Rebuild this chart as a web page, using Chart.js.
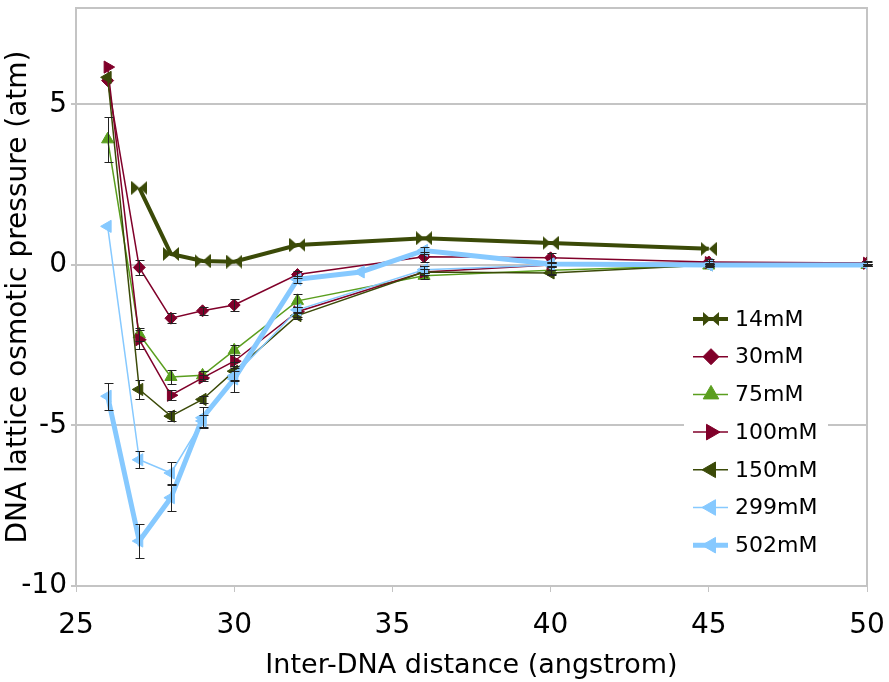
<!DOCTYPE html>
<html>
<head>
<meta charset="utf-8">
<script src="https://cdn.jsdelivr.net/npm/chart.js@4.4.0/dist/chart.umd.min.js"></script>
<style>
html, body { margin: 0; padding: 0; background: #fff; }
</style>
</head>
<body>
<canvas id="pressureChart" width="889" height="682"></canvas>
<script>
// values (distance in angstrom, pressure in atm, +/- error)
const dist14 = [27, 28, 29, 30, 32, 36, 40, 45];
const p14 = [2.4, 0.34, 0.12, 0.1, 0.62, 0.83, 0.68, 0.5];

const dist30 = [26, 27, 28, 29, 30, 32, 36, 40, 45, 50];
const p30 = [5.74, -0.08, -1.66, -1.43, -1.25, -0.3, 0.25, 0.22, 0.09, 0.06];
const err30 = [0, 0.23, 0.15, 0.12, 0.2, 0.12, 0.15, 0.15, 0.08, 0.05];

const dist75 = [26, 27, 28, 29, 30, 32, 36, 40, 45, 50];
const p75 = [3.91, -2.16, -3.49, -3.44, -2.66, -1.12, -0.34, -0.17, -0.02, 0];
const err75 = [0.71, 0.2, 0.23, 0.12, 0.15, 0.2, 0.1, 0.1, 0.05, 0.03];

const dist100 = [26, 27, 28, 29, 30, 32, 36, 40, 45, 50];
const p100 = [6.16, -2.33, -4.06, -3.52, -3.0, -1.46, -0.22, 0.0, 0.07, 0.05];
const err100 = [0, 0.3, 0.15, 0.1, 0.2, 0.15, 0.1, 0.08, 0.05, 0.03];

const dist150 = [26, 27, 28, 29, 30, 32, 36, 40, 45, 50];
const p150 = [5.84, -3.88, -4.71, -4.19, -3.31, -1.58, -0.22, -0.25, 0.0, 0.0];
const err150 = [0, 0.31, 0.15, 0.1, 0.3, 0.1, 0.1, 0.08, 0.05, 0.03];

const dist299 = [26, 27, 28, 29, 30, 32, 36, 40, 45, 50];
const p299 = [1.2, -6.07, -6.48, -4.86, -3.45, -1.4, -0.15, 0.0, 0.0, 0.0];
const err299 = [0, 0.27, 0.35, 0.2, 0.15, 0.1, 0.1, 0.05, 0.03, 0.02];

const dist502 = [26, 27, 28, 29, 30, 32, 34, 36, 40, 45, 50];
const p502 = [-4.09, -8.6, -7.25, -4.76, -3.55, -0.45, -0.22, 0.45, 0.03, 0.0, 0.0];
const err502 = [0.42, 0.54, 0.41, 0.33, 0.4, 0.1, 0, 0.1, 0.05, 0.03, 0.02];

const xTicks = [25, 30, 35, 40, 45, 50];
const yTicks = [-10, -5, 0, 5];

const olive = '#3B4A08';
const maroon = '#80002A';
const green = '#5A9E1E';
const sky = '#86C9FF';

Chart.defaults.font.family = "'DejaVu Sans', sans-serif";
Chart.defaults.color = '#000';

// bowtie marker used by the 14mM series
function bowtie(color, w, h) {
    const c = document.createElement('canvas');
    c.width = w;
    c.height = h;
    const g = c.getContext('2d');
    g.fillStyle = color;
    g.beginPath();
    g.moveTo(0, 0); g.lineTo(w / 2, h / 2); g.lineTo(0, h); g.closePath();
    g.moveTo(w, 0); g.lineTo(w / 2, h / 2); g.lineTo(w, h); g.closePath();
    g.fill();
    return c;
}

function series(label, xs, ys, errs, color, width, style, rot, radius, order) {
    return {
        label: label,
        data: xs.map((x, i) => ({ x: x, y: ys[i] })),
        errors: errs,
        borderColor: color,
        backgroundColor: color,
        borderWidth: width,
        pointStyle: style,
        pointRotation: rot,
        pointRadius: radius,
        pointBorderWidth: 1,
        pointBackgroundColor: color,
        pointBorderColor: color,
        tension: 0,
        fill: false,
        order: order
    };
}

// plot frame (top / right edges)
const frame = {
    id: 'frame',
    beforeDatasetsDraw(chart) {
        const { ctx, chartArea: a } = chart;
        ctx.save();
        ctx.strokeStyle = '#C4C4C4';
        ctx.lineWidth = 2;
        ctx.strokeRect(a.left, a.top, a.right - a.left, a.bottom - a.top);
        ctx.restore();
    }
};

// vertical error bars with caps
const errorBars = {
    id: 'errorBars',
    afterDatasetsDraw(chart) {
        const { ctx, scales: { x, y } } = chart;
        ctx.save();
        ctx.strokeStyle = '#222';
        ctx.lineWidth = 1;
        chart.data.datasets.forEach(d => {
            if (!d.errors) return;
            d.data.forEach((p, i) => {
                const e = d.errors[i];
                if (!e) return;
                const px = Math.round(x.getPixelForValue(p.x)) + 0.5;
                const y1 = Math.round(y.getPixelForValue(p.y + e)) + 0.5;
                const y2 = Math.round(y.getPixelForValue(p.y - e)) + 0.5;
                ctx.beginPath();
                ctx.moveTo(px, y1); ctx.lineTo(px, y2);
                ctx.moveTo(px - 4, y1); ctx.lineTo(px + 5, y1);
                ctx.moveTo(px - 4, y2); ctx.lineTo(px + 5, y2);
                ctx.stroke();
            });
        });
        ctx.restore();
    }
};

// legend box inside the plot area
const boxLegend = {
    id: 'boxLegend',
    afterDraw(chart) {
        const { ctx, chartArea: a } = chart;
        const left = a.right - 183;
        const top = a.top + 294;
        const rowH = 37.7;
        ctx.save();
        ctx.fillStyle = '#fff';
        ctx.fillRect(left, top, 144, 266);
        chart.data.datasets.forEach((d, i) => {
            const cy = top + 17 + i * rowH;
            ctx.strokeStyle = d.borderColor;
            ctx.lineWidth = d.borderWidth;
            ctx.beginPath();
            ctx.moveTo(left + 9, cy);
            ctx.lineTo(left + 44, cy);
            ctx.stroke();
            ctx.fillStyle = d.pointBackgroundColor;
            ctx.strokeStyle = d.pointBorderColor;
            ctx.lineWidth = 1;
            Chart.helpers.drawPoint(ctx, {
                pointStyle: d.pointStyle,
                rotation: d.pointRotation,
                radius: d.pointStyle === 'rectRot' ? 8 : 9,
                borderWidth: 1
            }, left + 27, cy);
            ctx.fillStyle = '#000';
            ctx.font = "22px 'DejaVu Sans', sans-serif";
            ctx.textBaseline = 'middle';
            ctx.textAlign = 'left';
            ctx.fillText(d.label, left + 51, cy + 1);
        });
        ctx.restore();
    }
};

const ctx = document.getElementById('pressureChart').getContext('2d');
const pressureChart = new Chart(ctx, {
    type: 'line',
    data: {
        datasets: [
            series('14mM', dist14, p14, null, olive, 4, bowtie(olive, 16, 14), 0, 7, -1),
            series('30mM', dist30, p30, err30, maroon, 1.5, 'rectRot', 0, 6, -2),
            series('75mM', dist75, p75, err75, green, 1.5, 'triangle', 0, 7, -3),
            series('100mM', dist100, p100, err100, maroon, 1.5, 'triangle', 90, 7, -4),
            series('150mM', dist150, p150, err150, olive, 1.5, 'triangle', -90, 7, -5),
            series('299mM', dist299, p299, err299, sky, 1.5, 'triangle', -90, 7, -6),
            series('502mM', dist502, p502, err502, sky, 5, 'triangle', -90, 7, -7)
        ]
    },
    options: {
        responsive: false,
        animation: false,
        layout: { padding: { top: 4, right: 22, left: 0, bottom: 0 } },
        plugins: {
            legend: { display: false },
            tooltip: { enabled: false }
        },
        scales: {
            x: {
                type: 'linear',
                min: 25,
                max: 50,
                afterBuildTicks: s => { s.ticks = xTicks.map(v => ({ value: v })); },
                afterFit: s => { s.height = 96; s.paddingLeft = 0; s.paddingRight = 0; },
                ticks: { font: { size: 28 }, color: '#000', padding: 17, maxRotation: 0 },
                grid: { drawOnChartArea: false, drawTicks: true, tickLength: 6, color: '#C4C4C4', lineWidth: 1 },
                border: { color: '#C4C4C4', width: 2 },
                title: { display: true, text: 'Inter-DNA distance (angstrom)', font: { size: 27 }, color: '#000', padding: { top: 0, bottom: 0 } }
            },
            y: {
                type: 'linear',
                min: -10,
                max: 8,
                afterBuildTicks: s => { s.ticks = yTicks.map(v => ({ value: v })); },
                afterFit: s => { s.width = 76; s.paddingTop = 0; s.paddingBottom = 0; },
                ticks: { font: { size: 28 }, color: '#000', padding: 4 },
                grid: { color: '#C4C4C4', lineWidth: 2, tickLength: 5 },
                border: { color: '#C4C4C4', width: 2 },
                title: { display: true, text: 'DNA lattice osmotic pressure (atm)', font: { size: 28 }, color: '#000', padding: { top: 2, bottom: 0 } }
            }
        }
    },
    plugins: [frame, errorBars, boxLegend]
});
</script>
</body>
</html>
